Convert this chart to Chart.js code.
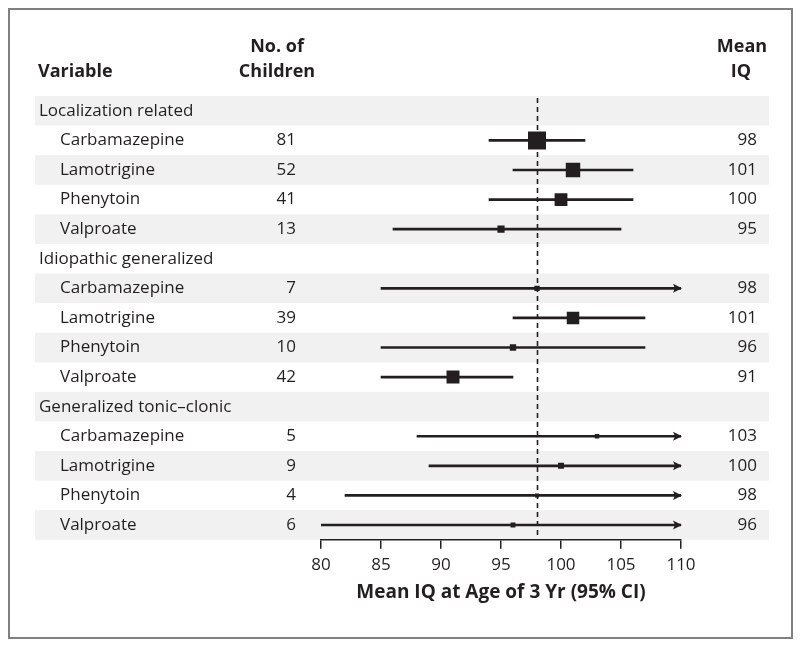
<!DOCTYPE html>
<html>
<head>
<meta charset="utf-8">
<script src="https://cdn.jsdelivr.net/npm/chart.js@4"></script>
<style>
  html, body { margin: 0; padding: 0; background: #fff; }
</style>
</head>
<body>
<canvas id="chart" width="800" height="649"></canvas>
<script>
// data
var groups = ['Localization related', 'Idiopathic generalized', 'Generalized tonic\u2013clonic'];
var drugs = ['Carbamazepine', 'Lamotrigine', 'Phenytoin', 'Valproate'];
var nChildren = [81, 52, 41, 13, 7, 39, 10, 42, 5, 9, 4, 6];
var meanIQ = [98, 101, 100, 95, 98, 101, 96, 91, 103, 100, 98, 96];
var ciLow = [94, 96, 94, 86, 85, 96, 85, 85, 88, 89, 82, 80];
var ciHigh = [102, 106, 106, 105, 111, 107, 107, 96, 118, 111, 114, 112]; // past 110 drawn as arrow
var xTicks = [80, 85, 90, 95, 100, 105, 110];
var refLine = 98;

var ink = '#231f20';
var font = '"Open Sans", "Noto Sans", sans-serif';

// build rows: group header then its drugs
var rows = [];
var k = 0;
groups.forEach(function(g) {
    rows.push({ label: g, header: true });
    drugs.forEach(function(d) {
        rows.push({ label: d, header: false, idx: k });
        k++;
    });
});

var ciData = [];
var meanData = [];
var sizes = [];
rows.forEach(function(r, i) {
    if (r.header) return;
    ciData.push({ y: i, x: [ciLow[r.idx], ciHigh[r.idx]] });
    meanData.push({ x: meanIQ[r.idx], y: i });
    sizes.push(nChildren[r.idx]);
});

var forestPlugin = {
    id: 'forest',
    beforeDraw: function(chart) {
        var c = chart.ctx;
        var y = chart.scales.y;
        c.save();
        c.fillStyle = '#fff';
        c.fillRect(0, 0, chart.width, chart.height);
        c.strokeStyle = '#808080';
        c.lineWidth = 2;
        c.strokeRect(9, 9, 783, 629);
        c.fillStyle = '#f1f1f2';
        rows.forEach(function(r, i) {
            if (i % 2 !== 0) return;
            var top = y.getPixelForValue(i - 0.5);
            var bot = y.getPixelForValue(i + 0.5);
            c.fillRect(35, top, 734, bot - top);
        });
        c.restore();
    },
    beforeDatasetsDraw: function(chart) {
        var c = chart.ctx;
        var x = chart.scales.x;
        var px = Math.round(x.getPixelForValue(refLine)) + 0.5;
        c.save();
        c.strokeStyle = ink;
        c.lineWidth = 1.6;
        c.setLineDash([5, 4]);
        c.beginPath();
        c.moveTo(px, chart.chartArea.top + 2);
        c.lineTo(px, chart.chartArea.bottom);
        c.stroke();
        c.restore();
    },
    afterDraw: function(chart) {
        var c = chart.ctx;
        var x = chart.scales.x;
        var y = chart.scales.y;
        c.save();
        c.fillStyle = ink;
        // arrows for intervals that run past the axis
        var tip = x.getPixelForValue(x.max);
        rows.forEach(function(r, i) {
            if (r.header || ciHigh[r.idx] <= x.max) return;
            var py = y.getPixelForValue(i);
            c.beginPath();
            c.moveTo(tip + 1, py);
            c.lineTo(tip - 8, py - 4.5);
            c.lineTo(tip - 6, py);
            c.lineTo(tip - 8, py + 4.5);
            c.closePath();
            c.fill();
        });
        // headers
        c.font = 'bold 18px ' + font;
        c.textBaseline = 'middle';
        c.textAlign = 'left';
        c.fillText('Variable', 38, 72);
        c.textAlign = 'center';
        c.fillText('No. of', 277, 47);
        c.fillText('Children', 277, 72);
        c.fillText('Mean', 742, 47);
        c.fillText('IQ', 741, 72);
        // row text
        c.font = '17px ' + font;
        rows.forEach(function(r, i) {
            var py = y.getPixelForValue(i);
            c.textAlign = 'left';
            c.fillText(r.label, r.header ? 39 : 60, py);
            if (r.header) return;
            c.textAlign = 'right';
            c.fillText(String(nChildren[r.idx]), 296, py);
            c.fillText(String(meanIQ[r.idx]), 757, py);
        });
        c.restore();
    }
};

var ctx = document.getElementById('chart').getContext('2d');
var chart = new Chart(ctx, {
    data: {
        datasets: [{
            type: 'bar',
            label: '95% CI',
            indexAxis: 'y',
            data: ciData,
            backgroundColor: ink,
            borderWidth: 0,
            barThickness: 2,
            order: 2
        }, {
            type: 'scatter',
            label: 'Mean IQ',
            data: meanData,
            pointStyle: 'rect',
            backgroundColor: ink,
            borderWidth: 0,
            pointRadius: function(ctx) {
                return Math.sqrt(2 * sizes[ctx.dataIndex]);
            },
            order: 1
        }]
    },
    options: {
        responsive: false,
        animation: false,
        layout: {
            padding: { left: 321, right: 119, top: 96, bottom: 45 }
        },
        plugins: {
            legend: { display: false },
            tooltip: { enabled: false }
        },
        scales: {
            x: {
                type: 'linear',
                min: 80,
                max: 110,
                afterBuildTicks: function(scale) {
                    scale.ticks = xTicks.map(function(v) { return { value: v }; });
                },
                grid: {
                    drawOnChartArea: false,
                    drawTicks: true,
                    tickLength: 9,
                    color: ink,
                    lineWidth: 1.5
                },
                border: { display: true, color: ink, width: 1.5 },
                ticks: {
                    color: ink,
                    padding: 6,
                    maxRotation: 0,
                    font: { family: font, size: 17 }
                },
                title: {
                    display: true,
                    text: 'Mean IQ at Age of 3 Yr (95% CI)',
                    color: ink,
                    padding: { top: 0, bottom: 0 },
                    font: { family: font, size: 19, weight: 'bold' }
                }
            },
            y: {
                type: 'linear',
                display: false,
                offset: false,
                reverse: true,
                min: -0.5,
                max: rows.length - 0.5
            }
        }
    },
    plugins: [forestPlugin]
});
</script>
</body>
</html>
